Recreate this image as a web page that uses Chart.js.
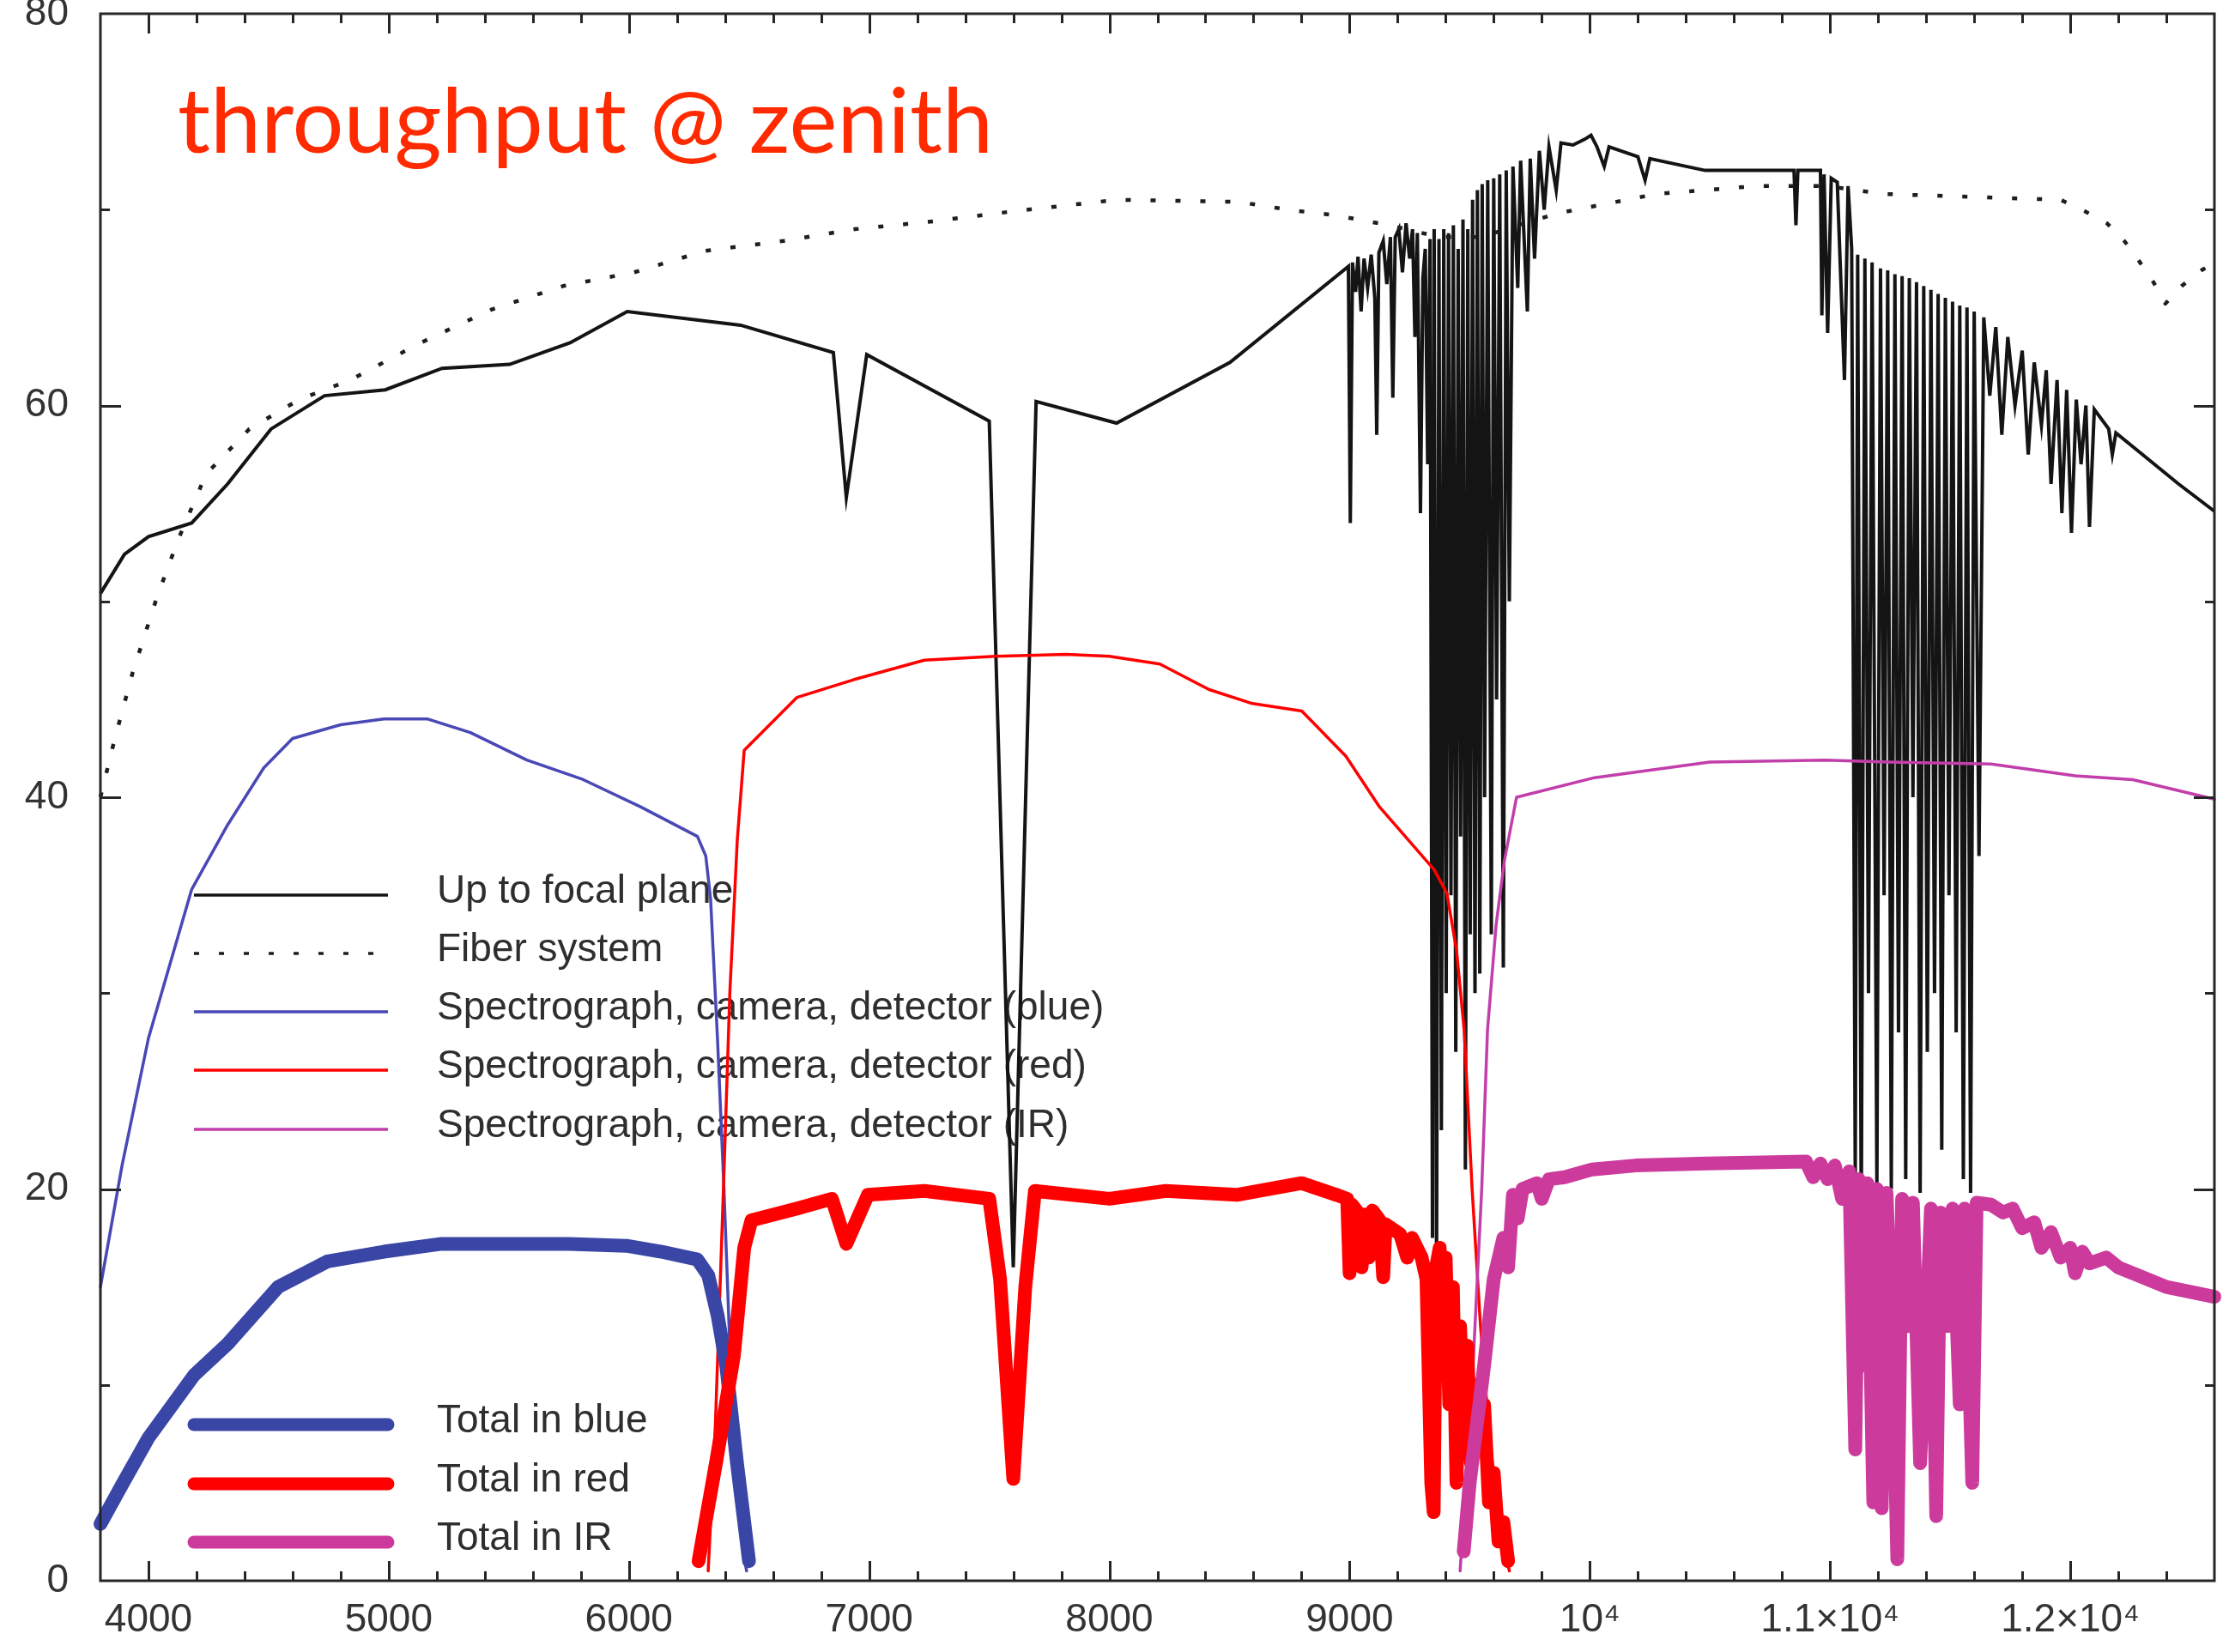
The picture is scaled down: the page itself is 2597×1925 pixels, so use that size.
<!DOCTYPE html>
<html><head><meta charset="utf-8">
<script src="https://cdn.jsdelivr.net/npm/chart.js@4.4.1/dist/chart.umd.min.js"></script>
<style>html,body{margin:0;padding:0;background:#fff}#wrap{width:2597px;height:1925px;position:relative}</style>
</head><body><div id="wrap"><canvas id="c"></canvas></div>
<script>
// ---------- data (wavelength in Angstrom, throughput in %) ----------
const focalWl = [3800,3900,4000,4180,4330,4510,4733,4986,5222,5504,5755,5993,6465,6851,6905,6990,7500,7600,7695,8030,8502,8995,
 9003,9012,9025,9035,9048,9060,9075,9090,9105,9113,9122,9140,9155,9170,9180,9190,9205,9220,9235,9250,9262,9272,9282,9295,9305,9315,9325,9335,
 9345,9352,9362,9372,9382,9392,9402,9412,9422,9432,9442,9452,9462,9472,9482,9492,9502,9512,9522,9532,9542,9552,9562,9575,9590,9600,9612,9625,9640,9652,9665,9680,
 9700,9712,9740,9752,9770,9790,9810,9830,9860,9880,9930,9980,10005,10030,10060,10080,10200,10230,10250,10480,10850,10858,10866,
 10960,10966,10975,10990,11005,11030,11060,11075,11090,11105,11115,11130,11145,11160,11175,11195,11210,11225,11240,11255,11270,11285,11300,11315,11330,11345,11360,
 11375,11390,11405,11420,11435,11450,11465,11480,11495,11510,11525,11540,11555,11570,11585,11600,11620,11640,11665,11690,11715,11740,11770,11800,11825,11850,
 11880,11900,11920,11945,11965,11985,12005,12025,12045,12065,12080,12100,12160,12175,12190,12300,12450,12600];
const focalTp = [50.4,52.4,53.3,54.0,56.0,58.8,60.5,60.8,61.9,62.1,63.2,64.8,64.1,62.7,55.3,62.6,59.2,16.0,60.2,59.1,62.2,67.1,
 54.0,67.3,65.8,67.6,64.8,67.5,66.0,67.7,65.5,58.5,67.8,68.4,66.2,68.6,60.4,68.6,69.0,66.8,69.3,67.5,69.0,63.5,68.8,54.5,66.5,68.0,57.0,68.5,
 17.5,69.0,16.0,68.5,23.0,69.0,30.0,68.8,35.0,69.2,27.0,68.0,38.0,69.5,21.0,69.0,33.0,70.5,30.0,71.0,31.0,71.3,40.0,71.5,33.0,71.6,45.0,71.8,31.3,72.0,50.0,72.2,
 66.0,72.5,64.8,72.6,67.5,73.0,70.0,73.2,71.0,73.4,73.3,73.6,73.8,73.2,72.2,73.2,72.7,71.5,72.6,72.0,72.0,69.2,72.0,
 72.0,64.6,71.8,63.7,71.6,71.4,61.3,71.2,68.0,20.5,67.7,18.3,67.5,30.0,67.3,20.2,67.0,35.0,66.9,20.0,66.7,28.0,66.6,20.5,66.5,40.0,66.3,
 19.8,66.1,27.0,65.9,30.0,65.7,22.0,65.5,35.0,65.3,28.0,65.1,20.5,65.0,19.8,64.8,37.0,64.5,60.5,64.0,58.5,63.5,60.0,62.8,57.5,62.2,
 59.0,61.8,56.0,61.3,54.5,60.8,53.5,60.3,57.0,60.0,53.8,59.8,58.8,57.5,58.6,57.5,56.0,54.6];

const fiberWl = [3800,3860,3935,4035,4125,4240,4420,4627,4840,5133,5429,5726,6022,6319,6644,6940,7266,7591,8030,8534,8741,8945,9166,9373,9550,9700,9862,10277,10688,10985,11220,11960,12063,12153,12225,12285,12346,12396,12464,12546,12600];
const fiberTp = [40.0,43.0,46.4,50.2,53.2,56.5,58.8,60.3,61.3,63.2,64.9,66.1,66.8,67.9,68.4,69.0,69.4,69.9,70.5,70.4,70.0,69.7,69.2,68.6,68.6,69.2,69.8,70.8,71.2,71.2,70.8,70.5,69.9,69.3,68.4,67.4,66.3,65.2,66.1,66.9,67.3];

const specBlueWl = [3800,3890,4000,4180,4330,4480,4600,4800,4980,5160,5340,5575,5810,6050,6285,6320,6340,6369,6395,6420,6445,6475,6490];
const specBlueTp = [15.0,21.2,27.7,35.3,38.6,41.5,43.0,43.7,44.0,44.0,43.3,41.9,40.9,39.5,38.0,37.0,34.8,27.6,20.2,12.0,6.0,1.5,0.5];

const specRedWl = [6330,6360,6394,6420,6451,6480,6700,6935,7230,7525,7820,8000,8210,8415,8590,8801,8984,9125,9352,9405,9445,9477,9510,9545,9585,9630,9665];
const specRedTp = [0.5,8.0,20.2,30.0,37.8,42.4,45.1,46.0,47.0,47.2,47.3,47.2,46.8,45.5,44.8,44.4,42.1,39.5,36.3,35.1,32.2,28.1,20.0,13.0,7.0,2.5,0.5];

const specIrWl = [9460,9510,9550,9574,9610,9645,9695,10020,10499,10978,11246,11670,12020,12260,12600];
const specIrTp = [0.5,10.0,20.0,28.1,33.5,36.8,40.0,41.0,41.8,41.9,41.8,41.7,41.1,40.9,39.9];

const totBlueWl = [3800,3890,4000,4190,4330,4540,4745,4980,5220,5455,5750,5990,6135,6285,6330,6370,6405,6450,6500];
const totBlueTp = [2.9,4.9,7.3,10.5,12.1,15.0,16.3,16.8,17.2,17.2,17.2,17.1,16.8,16.4,15.6,13.5,11.0,6.0,1.0];

const totRedWl = [6290,6365,6437,6480,6510,6700,6845,6905,6995,7230,7500,7545,7600,7650,7690,8000,8235,8530,8800,8945,8990,9000,9010,9035,9050,9060,9080,9095,
 9125,9140,9150,9210,9240,9260,9300,9320,9340,9350,9360,9375,9390,9400,9415,9430,9445,9460,9475,9490,9505,9520,9545,9560,9580,9600,9620,9640,9660];
const totRedTp = [1.0,6.2,11.5,17.0,18.4,19.0,19.5,17.2,19.7,19.9,19.5,15.4,5.2,15.0,19.9,19.5,19.9,19.7,20.3,19.7,19.5,15.7,19.2,18.8,16.0,18.7,16.5,18.9,
 18.4,15.5,18.2,17.7,16.5,17.5,16.5,15.4,5.0,3.5,16.0,17.0,12.0,16.5,9.0,15.0,5.0,13.0,8.0,12.0,6.0,10.0,7.0,9.0,4.0,5.5,2.0,3.0,1.0];

const totIrWl = [9475,9500,9530,9560,9600,9640,9660,9680,9700,9720,9780,9800,9830,9895,10010,10190,10485,10900,10930,10960,10990,11020,11050,11080,11105,11120,11140,11155,
 11180,11195,11215,11235,11260,11280,11300,11325,11345,11375,11400,11420,11442,11460,11490,11510,11540,11560,11592,11610,11670,11720,11760,11800,11850,11880,11920,11960,
 12000,12020,12050,12080,12150,12200,12260,12400,12600];
const totIrTp = [1.5,5.0,8.0,11.0,15.4,17.5,16.0,19.7,18.5,20.0,20.3,19.5,20.5,20.6,21.0,21.2,21.3,21.4,20.6,21.3,20.5,21.2,19.5,20.9,6.7,20.5,11.0,20.3,
 4.0,20.0,3.7,19.8,12.0,1.1,19.5,13.0,19.3,6.0,12.8,19.0,3.3,18.8,13.0,19.0,9.0,19.0,5.0,19.3,19.2,18.8,19.0,18.0,18.3,17.0,17.8,16.5,
 17.0,15.7,16.8,16.2,16.5,16.0,15.7,15.0,14.5];

const seriesNames = ['Up to focal plane','Fiber system','Spectrograph, camera, detector (blue)','Spectrograph, camera, detector (red)',
 'Spectrograph, camera, detector (IR)','Total in blue','Total in red','Total in IR'];
const xTickValues = [4000,5000,6000,7000,8000,9000,10000,11000,12000];
const xTickLabels = ['4000','5000','6000','7000','8000','9000','10\u2074','1.1\u00d710\u2074','1.2\u00d710\u2074'];
const yTickValues = [0,20,40,60,80];
const titleText = 'throughput @ zenith';

// ---------- chart ----------
const pts = (wl, tp) => wl.map((w, i) => ({x: w, y: tp[i]}));
const FONT = 'Liberation Sans, Arial, sans-serif';

function ds(label, wl, tp, color, width, order, extra) {
  return Object.assign({label, data: pts(wl, tp), borderColor: color, backgroundColor: color,
    borderWidth: width, pointRadius: 0, tension: 0, fill: false, order, clip: false,
    borderCapStyle: 'round', borderJoinStyle: 'round'}, extra || {});
}

const datasets = [
  ds(seriesNames[0], focalWl, focalTp, '#141414', 4, 7, {borderJoinStyle: 'miter', borderCapStyle: 'butt'}),
  ds(seriesNames[1], fiberWl, fiberTp, '#1e1e1e', 4.5, 6, {borderDash: [6, 23], borderCapStyle: 'butt'}),
  ds(seriesNames[2], specBlueWl, specBlueTp, '#4848b6', 3.5, 5),
  ds(seriesNames[3], specRedWl, specRedTp, '#ff0000', 3.5, 4),
  ds(seriesNames[4], specIrWl, specIrTp, '#c23eaa', 3.5, 3),
  ds(seriesNames[5], totBlueWl, totBlueTp, '#3a46a6', 16, 2),
  ds(seriesNames[6], totRedWl, totRedTp, '#ff0000', 16, 1),
  ds(seriesNames[7], totIrWl, totIrTp, '#cc3a9c', 16, 0)
];

const legendRows = [1043, 1111, 1179, 1247, 1316, 1660, 1729, 1797];
const inLegend = {
  id: 'inLegend',
  beforeDatasetsDraw(chart) {
    const ctx = chart.ctx;
    ctx.save();
    chart.data.datasets.forEach((d, i) => {
      const yy = legendRows[i];
      ctx.beginPath();
      ctx.strokeStyle = d.borderColor;
      ctx.lineWidth = d.borderWidth > 5 ? 15 : 3.5;
      ctx.lineCap = d.borderWidth > 5 ? 'round' : 'butt';
      ctx.setLineDash(d.borderDash || []);
      ctx.moveTo(226, yy); ctx.lineTo(452, yy);
      ctx.stroke();
      ctx.setLineDash([]);
      ctx.fillStyle = '#2e2e2e';
      ctx.font = '46px ' + FONT;
      ctx.textBaseline = 'alphabetic';
      ctx.textAlign = 'left';
      ctx.fillText(d.label, 509, yy + 9);
    });
    ctx.restore();
  },
  afterDraw(chart) {
    const ctx = chart.ctx;
    ctx.save();
    ctx.font = '104px Lato, "Open Sans", sans-serif';
    ctx.fillStyle = '#ff2a00';
    ctx.textBaseline = 'alphabetic';
    const w = ctx.measureText(titleText).width;
    ctx.translate(207, 178);
    ctx.scale(950 / w, 1);
    ctx.fillText(titleText, 0, 0);
    ctx.restore();
  }
};

const frame = {
  id: 'frame',
  afterDatasetsDraw(chart) {
    const {ctx, chartArea: a, scales: {x, y}} = chart;
    ctx.save();
    ctx.strokeStyle = '#262626';
    ctx.lineWidth = 3;
    ctx.strokeRect(a.left, a.top, a.right - a.left, a.bottom - a.top);
    ctx.beginPath();
    for (let v = x.min + 200; v < x.max; v += 200) {
      const px = Math.round(x.getPixelForValue(v)) + 0.5;
      const len = v % 1000 === 0 ? 23 : 11;
      ctx.moveTo(px, a.bottom); ctx.lineTo(px, a.bottom - len);
      ctx.moveTo(px, a.top); ctx.lineTo(px, a.top + len);
    }
    for (let v = y.min + 10; v < y.max; v += 10) {
      const py = Math.round(y.getPixelForValue(v)) + 0.5;
      const len = v % 20 === 0 ? 24 : 11;
      ctx.moveTo(a.left, py); ctx.lineTo(a.left + len, py);
      ctx.moveTo(a.right, py); ctx.lineTo(a.right - len, py);
    }
    ctx.stroke();
    ctx.restore();
  }
};

new Chart(document.getElementById('c'), {
  type: 'line',
  data: {datasets},
  plugins: [inLegend, frame],
  options: {
    responsive: true, maintainAspectRatio: false, animation: false, devicePixelRatio: 1,
    layout: {padding: {top: 16, right: 17, left: 0, bottom: 0}},
    plugins: {legend: {display: false}, tooltip: {enabled: false}, title: {display: false}},
    events: [],
    scales: {
      x: {
        type: 'linear', min: 3800, max: 12600,
        grid: {display: false, drawTicks: false}, border: {display: false},
        afterBuildTicks: s => { s.ticks = xTickValues.map(v => ({value: v})); },
        ticks: {callback: (v, i) => xTickLabels[i], font: {family: FONT, size: 46}, color: '#333',
                padding: 19, maxRotation: 0, autoSkip: false},
        afterFit: s => { s.height = 83; s.paddingLeft = 0; s.paddingRight = 0; }
      },
      y: {
        type: 'linear', min: 0, max: 80,
        grid: {display: false, drawTicks: false}, border: {display: false},
        afterBuildTicks: s => { s.ticks = yTickValues.map(v => ({value: v})); },
        ticks: {font: {family: FONT, size: 46}, color: '#333', padding: 37},
        afterFit: s => { s.width = 117; s.paddingTop = 0; s.paddingBottom = 0; }
      }
    }
  }
});
</script>
</body></html>
